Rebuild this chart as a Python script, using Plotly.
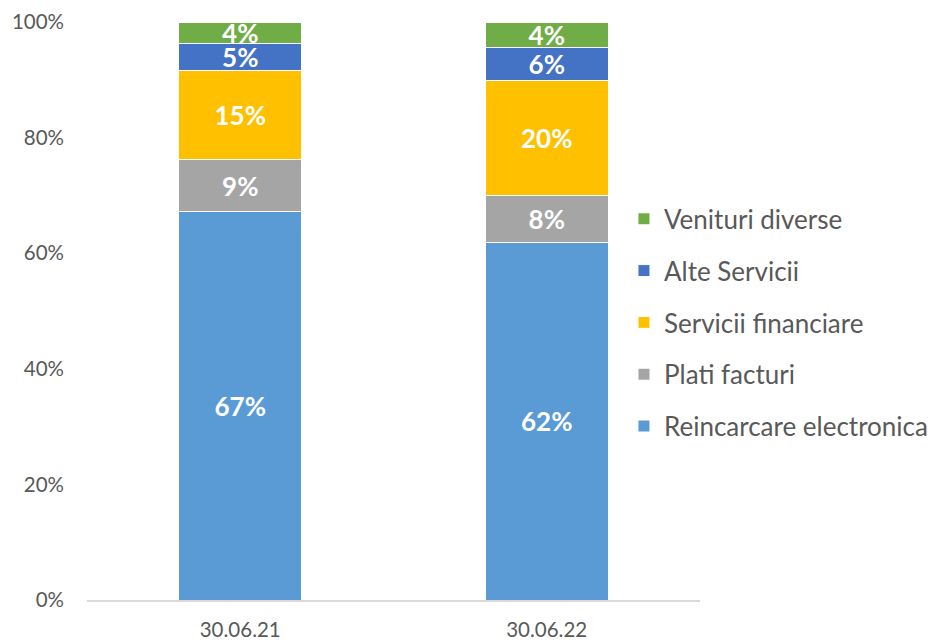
import plotly.graph_objects as go

categories = ["30.06.21", "30.06.22"]
series_names = ["Reincarcare electronica", "Plati facturi", "Servicii financiare", "Alte Servicii", "Venituri diverse"]
reincarcare = [67.2, 61.9]
plati = [9.0, 8.1]
financiare = [15.4, 19.8]
alte = [4.6, 5.8]
venituri = [3.8, 4.4]
y_ticks = [0, 20, 40, 60, 80, 100]
y_tick_labels = ["0%", "20%", "40%", "60%", "80%", "100%"]

colors = ["#5B9BD5", "#A5A5A5", "#FFC000", "#4472C4", "#70AD47"]
values = [reincarcare, plati, financiare, alte, venituri]

FONT = "Lato, 'Open Sans', sans-serif"

fig = go.Figure()
n = len(series_names)
for i, (name, vals, col) in enumerate(zip(series_names, values, colors)):
    fig.add_trace(go.Bar(
        x=categories, y=vals, name=name, legendgroup=name,
        legendrank=n - i,
        marker=dict(color=col, line=dict(color="white", width=1)),
        texttemplate="<b>%{y:.0f}%</b>", textposition="inside",
        insidetextanchor="middle", textangle=0,
        textfont=dict(color="white", size=26, family=FONT),
        width=0.4,
    ))

fig.update_layout(
    barmode="stack",
    width=945, height=643,
    margin=dict(l=87, r=2, t=22, b=40),
    paper_bgcolor="white", plot_bgcolor="white",
    font=dict(family=FONT, color="#595959", size=20),
    uniformtext=dict(minsize=26, mode="show"),
    legend=dict(
        x=0.6273, xanchor="left", y=0.700, yanchor="top",
        traceorder="grouped", tracegroupgap=15,
        font=dict(size=26, color="#595959", family=FONT),
        itemwidth=30, bgcolor="rgba(0,0,0,0)",
    ),
    xaxis=dict(
        domain=[0, 0.7161],
        showline=True, linecolor="#D9D9D9", linewidth=1.5,
        ticks="", showgrid=False,
        tickfont=dict(size=20.5, color="#595959"),
        ticklabelstandoff=11,
    ),
    yaxis=dict(
        range=[0, 100], tickvals=y_ticks, ticktext=y_tick_labels,
        showgrid=False, zeroline=False, showline=False, ticks="",
        tickfont=dict(size=20.5, color="#595959"),
        ticklabelstandoff=22,
    ),
)

fig.write_html("out.html", config={"displayModeBar": False},
               post_script="document.body.style.margin='0';")
